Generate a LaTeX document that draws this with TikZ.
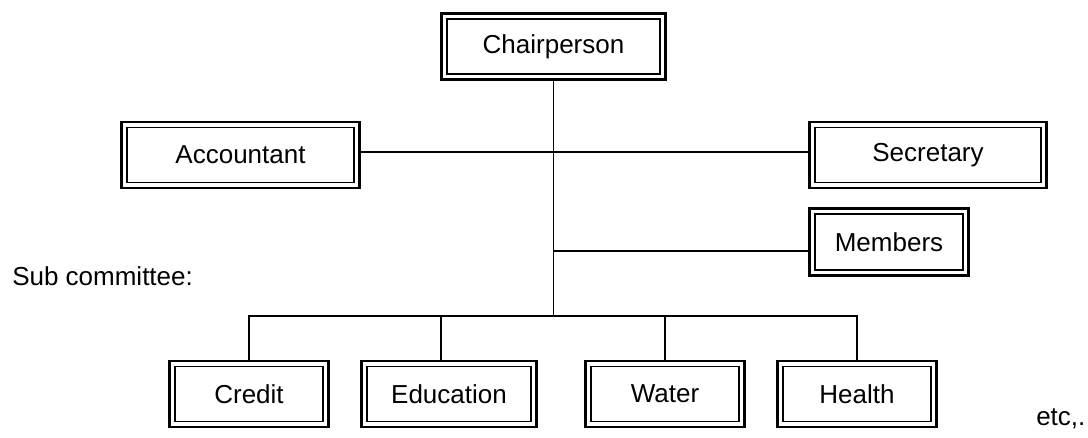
\documentclass[tikz,border=0pt]{standalone}
\usepackage{fontspec}
\setmainfont{Liberation Sans}
\usetikzlibrary{positioning, calc}

\tikzset{
  orgbox/.style={draw, line width=2.2pt, outer sep=0pt, inner sep=0pt,
    minimum height=49.5pt, font=\fontsize{19.5}{23}\selectfont},
  link/.style={line width=1.1pt},
  plain/.style={inner sep=0pt, font=\fontsize{19.5}{23}\selectfont}
}

\begin{document}
\begin{tikzpicture}[x=0.75pt, y=-0.75pt]
  \useasboundingbox (0,0) rectangle (1088,437);

  % committee
  \node[orgbox, minimum width=168pt] (chair) at (553.5,46.5) {Chairperson};
  \node[orgbox, minimum width=178.5pt] (acct) at (240.5,155) {Accountant};
  \node[orgbox, minimum width=177.75pt] (secr) at (928,155) {Secretary};
  \node[orgbox, minimum width=119.25pt, minimum height=50.25pt] (memb) at (889,242) {Members};

  % sub committees
  \node[orgbox, minimum width=119.25pt] (cred) at (249,394) {Credit};
  \node[orgbox, minimum width=131.25pt] (edu) at (449,394) {Education};
  \node[orgbox, minimum width=119.25pt] (water) at (665,394) {Water};
  \node[orgbox, minimum width=119.25pt] (health) at (857,394) {Health};

  \node[plain, anchor=base west] (sub) at (12,285) {Sub committee:};
  \node[plain, anchor=base west] (etc) at (1036,425) {etc,.};

  % inner thin frame
  \foreach \n in {chair,acct,secr,memb,cred,edu,water,health}
    \draw[link] ([shift={(4pt,-4pt)}]\n.north west) rectangle ([shift={(-4pt,4pt)}]\n.south east);

  % connectors
  \coordinate (aj) at (553.5,152);
  \coordinate (mj) at (553.5,251);
  \coordinate (bus) at (553.5,316);
  \draw[link] (chair.south) -- (bus);
  \draw[link] (acct.east |- aj) -- (secr.west |- aj);
  \draw[link] (mj) -- (mj -| memb.west);
  \draw[link] (cred.north) -- (cred.north |- bus) -- (health.north |- bus) -- (health.north);
  \draw[link] ([xshift=-6pt]edu.north) -- ([xshift=-6pt]edu.north |- bus);
  \draw[link] (water.north) -- (water.north |- bus);
\end{tikzpicture}
\end{document}
